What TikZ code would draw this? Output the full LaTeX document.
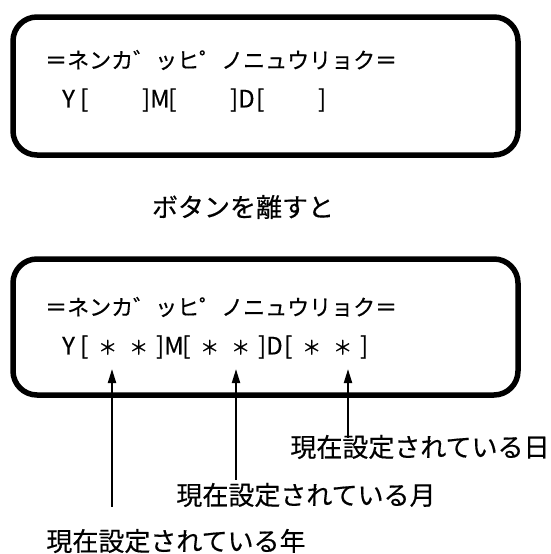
\documentclass[tikz,border=0pt]{standalone}
\usepackage{fontspec}
\usepackage{tikz}
\usetikzlibrary{arrows.meta}
\newfontfamily\jpfont[FakeBold=0.4]{Noto Sans CJK JP}
\newcommand\cel[3][c]{\makebox[#2pt][#1]{#3}}
\newcommand\lat{\fontsize{24}{24}\selectfont}
\newcommand\grp[3]{\cel[l]{18}{\lat #1}\cel[l]{12}{\lat [}\cel{#2}{#3}\cel[r]{10}{\lat ]}}
\newcommand\st{\cel{31}{\fontsize{19}{19}\selectfont ＊}}

\begin{document}
\begin{tikzpicture}[x=1pt,y=-1pt,>={Triangle[width=8pt,length=14pt]},
                    screen/.style={draw,line width=5.5pt,rounded corners=24pt,
                                   minimum width=505pt,inner sep=0pt},
                    disp/.style={font=\jpfont\fontsize{22}{22}\selectfont,
                                 inner sep=0pt,anchor=west},
                    note/.style={font=\jpfont\fontsize{26}{26}\selectfont,
                                 inner sep=0pt}]
  \useasboundingbox (0,0) rectangle (551,554);

  \node[screen,minimum height=138pt] (S1) at (265.5,86)  {};
  \node[disp]  (S1a) at (45,60)   {＝ネンカ゛ッヒ゜ノニュウリョク＝};
  \node[disp]  (S1b) at (62,100)  {\grp{Y}{48}{}\grp{M}{48}{}\grp{D}{48}{}};

  \node[note]  (push) at (243,207) {ボタンを離すと};

  \node[screen,minimum height=136pt] (S2) at (265.5,327) {};
  \node[disp]  (S2a) at (45,307)  {＝ネンカ゛ッヒ゜ノニュウリョク＝};
  \node[disp]  (S2b) at (62,347)  {\grp{Y}{62}{\st\st}\grp{M}{62}{\st\st}\grp{D}{62}{\st\st}};

%  tips under the digits
  \coordinate (Yt) at (112,369);
  \coordinate (Mt) at (236,369);
  \coordinate (Dt) at (348,369);

  \node[note]  (D) at (420,447) {現在設定されている日};
  \node[note]  (M) at (306,495) {現在設定されている月};
  \node[note]  (Y) at (176,541) {現在設定されている年};

  \path (D.north -| Dt) edge [->,line width=2pt,shorten <=-3pt] (Dt)
        (M.north -| Mt) edge [->,line width=2pt,shorten <=3pt]  (Mt)
        (Y.north -| Yt) edge [->,line width=2pt,shorten <=22pt] (Yt);

\end{tikzpicture}
\end{document}
